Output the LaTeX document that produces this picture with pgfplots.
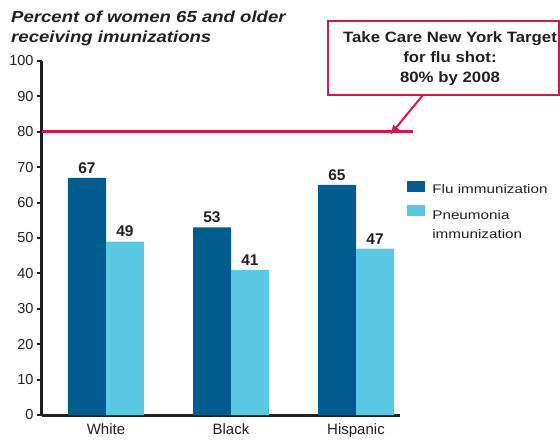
\documentclass[border=0pt]{standalone}
\usepackage{fontspec}
\setmainfont{Liberation Sans}
\usepackage{pgfplots}
\pgfplotsset{compat=1.18}
\usetikzlibrary{arrows.meta}

\definecolor{flu}{HTML}{005B8E}
\definecolor{pneu}{HTML}{5BC8E3}
\definecolor{target}{HTML}{D4174B}
\definecolor{txt}{HTML}{231F20}

\begin{document}
\begin{tikzpicture}
\useasboundingbox (0pt,0pt) rectangle (560pt,440pt);

% title
\node[anchor=base west, inner sep=0, text=txt, xscale=1.16, font=\bfseries\itshape\fontsize{16}{18}\selectfont] at (11pt,417pt) {Percent of women 65 and older};
\node[anchor=base west, inner sep=0, text=txt, xscale=1.16, font=\bfseries\itshape\fontsize{16}{18}\selectfont] at (11pt,397pt) {receiving imunizations};

\begin{axis}[
  at={(42pt,25pt)}, anchor=south west,
  scale only axis, width=358pt, height=354pt,
  xmin=-0.512, xmax=2.352, ymin=0, ymax=100,
  axis x line*=bottom, axis y line*=left,
  axis line style={line width=3pt, txt},
  ybar=0pt, bar width=0.304,
  xtick={0,1,2}, xticklabels={White,Black,Hispanic},
  x tick label style={font=\fontsize{15}{17}\selectfont, text=txt},
  major x tick style={draw=none},
  extra x ticks={0.5,1.5}, extra x tick labels={},
  extra x tick style={major tick length=5pt, tick style={line width=2pt, draw=txt}},
  ytick={0,10,...,100},
  y tick label style={font=\fontsize{14.5}{17}\selectfont, text=txt},
  /pgf/number format/assume math mode=true,
  tick align=outside, major tick length=5pt,
  every tick/.style={line width=2pt, txt},
  clip=false,
  legend style={at={(1.02,0.662)}, anchor=north west, draw=none, fill=none,
    font=\fontsize{12.5}{19}\selectfont, text=txt, row sep=7pt,
    cells={anchor=base west}, inner sep=0pt},
  legend cell align=left,
  legend image code/.code={\fill[#1] (0pt,-2pt) rectangle (18pt,9pt);},
]
\addplot[fill=flu, draw=none, nodes near coords,
  every node near coord/.append style={font=\bfseries\fontsize{15.5}{17}\selectfont, text=txt, yshift=1pt}]
  coordinates {(0,67) (1,53) (2,65)};
\addplot[fill=pneu, draw=none, nodes near coords,
  every node near coord/.append style={font=\bfseries\fontsize{15.5}{17}\selectfont, text=txt, yshift=1pt}]
  coordinates {(0,49) (1,41) (2,47)};
\addplot[forget plot, line width=3pt, target, sharp plot] coordinates {(-0.512,80) (2.456,80)};
\legend{\hspace{5pt}\scalebox{1.22}[1]{Flu immunization},
  \hspace{5pt}\begin{tabular}[t]{@{}l@{}}\scalebox{1.22}[1]{Pneumonia}\\\scalebox{1.22}[1]{immunization}\end{tabular}}
\end{axis}

% callout
\draw[target, line width=2pt, fill=white] (328pt,345pt) rectangle (559pt,419pt);
\node[anchor=base, inner sep=0, text=txt, xscale=1.12, font=\bfseries\fontsize{15}{17}\selectfont] at (450pt,397pt) {Take Care New York Target};
\node[anchor=base, inner sep=0, text=txt, xscale=1.12, font=\bfseries\fontsize{15}{17}\selectfont] at (450pt,377pt) {for flu shot:};
\node[anchor=base, inner sep=0, text=txt, xscale=1.12, font=\bfseries\fontsize{15}{17}\selectfont] at (450pt,357pt) {80\% by 2008};
\draw[target, line width=2pt, -{Latex[length=10pt,width=9pt]}] (423pt,345pt) -- (390pt,305pt);
\end{tikzpicture}
\end{document}
